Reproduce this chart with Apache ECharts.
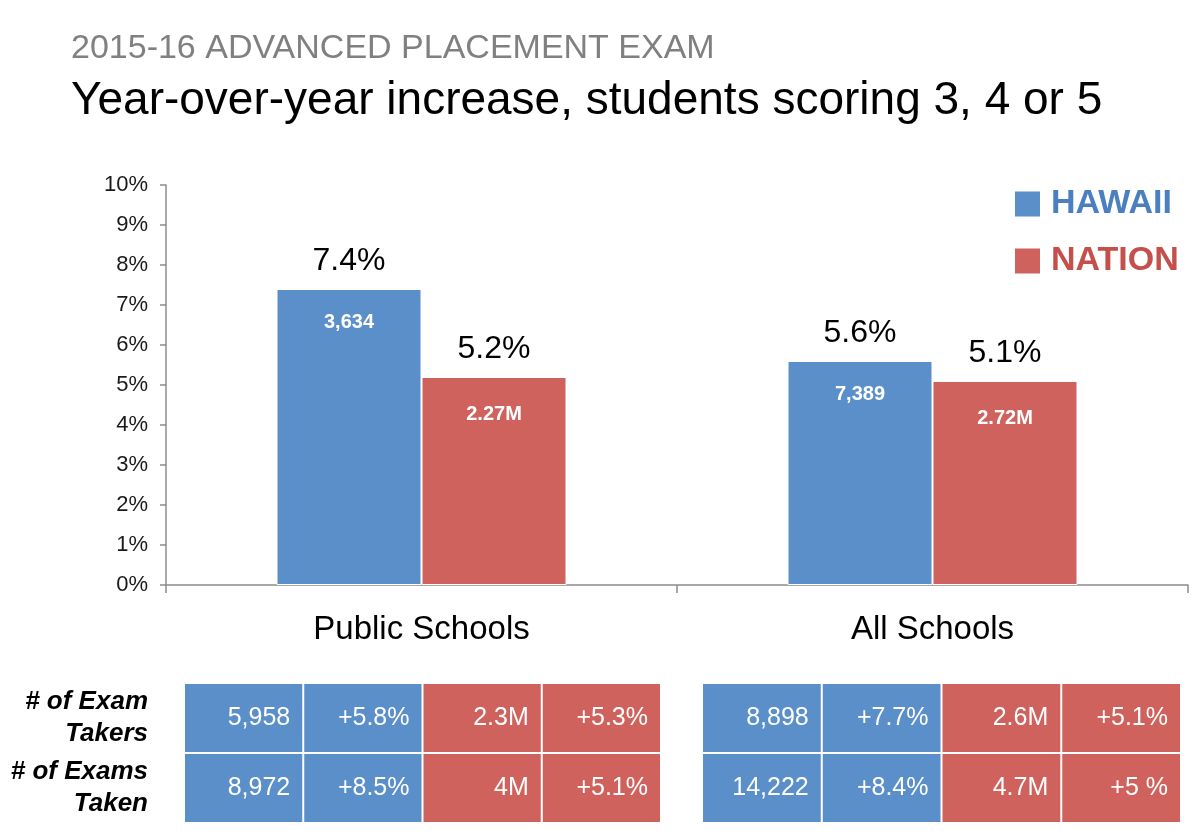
<!DOCTYPE html>
<html>
<head>
<meta charset="utf-8">
<script src="https://cdn.jsdelivr.net/npm/echarts@6/dist/echarts.min.js"></script>
<style>html,body{margin:0;padding:0;background:#fff}#c{width:1200px;height:837px}</style>
</head>
<body>
<div id="c"></div>
<script>
// ---- data ----
const categories = ['Public Schools', 'All Schools'];
const seriesNames = ['HAWAII', 'NATION'];
const hawaiiPct = [7.4, 5.6];
const nationPct = [5.2, 5.1];
const hawaiiCount = ['3,634', '7,389'];
const nationCount = ['2.27M', '2.72M'];
const yTicks = [0, 10, 1]; // min, max, interval (percent)
const rowLabels = ['# of Exam\nTakers', '# of Exams\nTaken'];
const tableCols = ['Hawaii number', 'Hawaii change', 'Nation number', 'Nation change'];
const publicTable = [
  ['5,958', '+5.8%', '2.3M', '+5.3%'],
  ['8,972', '+8.5%', '4M', '+5.1%']
];
const allTable = [
  ['8,898', '+7.7%', '2.6M', '+5.1%'],
  ['14,222', '+8.4%', '4.7M', '+5 %']
];

// ---- styles ----
const BLUE = '#5b8fca';
const RED = '#cf625c';
const FONT = '"Liberation Sans", Arial, sans-serif';

function tableData(tbl) {
  const out = [];
  tbl.forEach((row, r) => row.forEach((txt, c) => out.push([c, r])));
  return out;
}
function makeRender(tbl) {
  return function (params, api) {
    const c = api.value(0), r = api.value(1);
    const p = api.coord([c, r]);
    const s = api.size([1, 1]);
    const x = p[0] - s[0] / 2, y = p[1] - s[1] / 2;
    return {
      type: 'group',
      children: [
        { type: 'rect', shape: { x: x + 1, y: y + 1, width: s[0] - 2, height: s[1] - 2 },
          style: { fill: c < 2 ? BLUE : RED } },
        { type: 'text', style: { text: tbl[r][c], x: x + s[0] - 13, y: p[1], align: 'right',
          verticalAlign: 'middle', fill: '#fff', font: '25px ' + FONT } }
      ]
    };
  };
}

const chart = echarts.init(document.getElementById('c'));
chart.setOption({
  backgroundColor: '#fff',
  animation: false,
  textStyle: { fontFamily: FONT },
  title: [
    { text: '2015-16 ADVANCED PLACEMENT EXAM', left: 66, top: 27,
      textStyle: { fontSize: 34, fontWeight: 'normal', color: '#808080', fontFamily: FONT } },
    { text: 'Year-over-year increase, students scoring 3, 4 or 5', left: 66, top: 73,
      textStyle: { fontSize: 46, fontWeight: 'normal', color: '#000', fontFamily: FONT } }
  ],
  legend: {
    data: [
      { name: 'HAWAII', textStyle: { color: '#4a7fc0' } },
      { name: 'NATION', textStyle: { color: '#c5504b' } }
    ],
    orient: 'vertical', left: 1008, top: 182,
    itemWidth: 27, itemHeight: 27, itemGap: 23, icon: 'rect',
    textStyle: { fontSize: 34, fontWeight: 'bold', fontFamily: FONT, padding: [0, 0, 0, 5] }
  },
  grid: [
    { left: 166, right: 12, top: 185, height: 400 },
    { left: 184, top: 683, width: 477, height: 140 },
    { left: 702, top: 683, width: 479, height: 140 }
  ],
  xAxis: [
    { type: 'category', data: categories, gridIndex: 0,
      axisLine: { lineStyle: { color: '#8c8c8c', width: 1.5 } },
      axisTick: { show: true, length: 8, lineStyle: { color: '#8c8c8c', width: 1.5 } },
      axisLabel: { fontSize: 33, color: '#000', margin: 28 } },
    { type: 'category', data: categories, gridIndex: 0, show: false },
    { type: 'category', data: tableCols, gridIndex: 1, show: false },
    { type: 'category', data: tableCols, gridIndex: 2, show: false }
  ],
  yAxis: [
    { type: 'value', gridIndex: 0, min: yTicks[0], max: yTicks[1], interval: yTicks[2],
      splitLine: { show: false },
      axisLine: { show: true, lineStyle: { color: '#8c8c8c', width: 1.5 } },
      axisTick: { show: true, length: 6, lineStyle: { color: '#8c8c8c', width: 1.5 } },
      axisLabel: { formatter: '{value}%', fontSize: 22, color: '#1a1a1a', margin: 18 } },
    { type: 'category', data: rowLabels, gridIndex: 1, inverse: true,
      axisLine: { show: false }, axisTick: { show: false },
      axisLabel: { fontSize: 26, fontWeight: 'bold', fontStyle: 'italic', color: '#000',
        margin: 36, lineHeight: 32, align: 'right' } },
    { type: 'category', data: rowLabels, gridIndex: 2, inverse: true, show: false }
  ],
  series: [
    { name: 'HAWAII', type: 'bar', xAxisIndex: 0, yAxisIndex: 0, data: hawaiiPct,
      barWidth: 145, barGap: '0%',
      itemStyle: { color: BLUE, borderColor: '#fff', borderWidth: 1 },
      label: { show: true, position: 'top', distance: 12, formatter: '{c}%', fontSize: 32, color: '#000' } },
    { name: 'NATION', type: 'bar', xAxisIndex: 0, yAxisIndex: 0, data: nationPct,
      barWidth: 145, barGap: '0%',
      itemStyle: { color: RED, borderColor: '#fff', borderWidth: 1 },
      label: { show: true, position: 'top', distance: 12, formatter: '{c}%', fontSize: 32, color: '#000' } },
    { name: 'HAWAII count', type: 'bar', xAxisIndex: 1, yAxisIndex: 0, data: hawaiiPct,
      barWidth: 145, barGap: '0%', silent: true,
      itemStyle: { color: 'rgba(0,0,0,0)' },
      label: { show: true, position: 'insideTop', distance: 23,
        formatter: p => hawaiiCount[p.dataIndex], fontSize: 20, fontWeight: 'bold', color: '#fff' } },
    { name: 'NATION count', type: 'bar', xAxisIndex: 1, yAxisIndex: 0, data: nationPct,
      barWidth: 145, barGap: '0%', silent: true,
      itemStyle: { color: 'rgba(0,0,0,0)' },
      label: { show: true, position: 'insideTop', distance: 27,
        formatter: p => nationCount[p.dataIndex], fontSize: 20, fontWeight: 'bold', color: '#fff' } },
    { name: 'Public table', type: 'custom', xAxisIndex: 2, yAxisIndex: 1,
      data: tableData(publicTable), renderItem: makeRender(publicTable) },
    { name: 'All table', type: 'custom', xAxisIndex: 3, yAxisIndex: 2,
      data: tableData(allTable), renderItem: makeRender(allTable) }
  ]
});
</script>
</body>
</html>
